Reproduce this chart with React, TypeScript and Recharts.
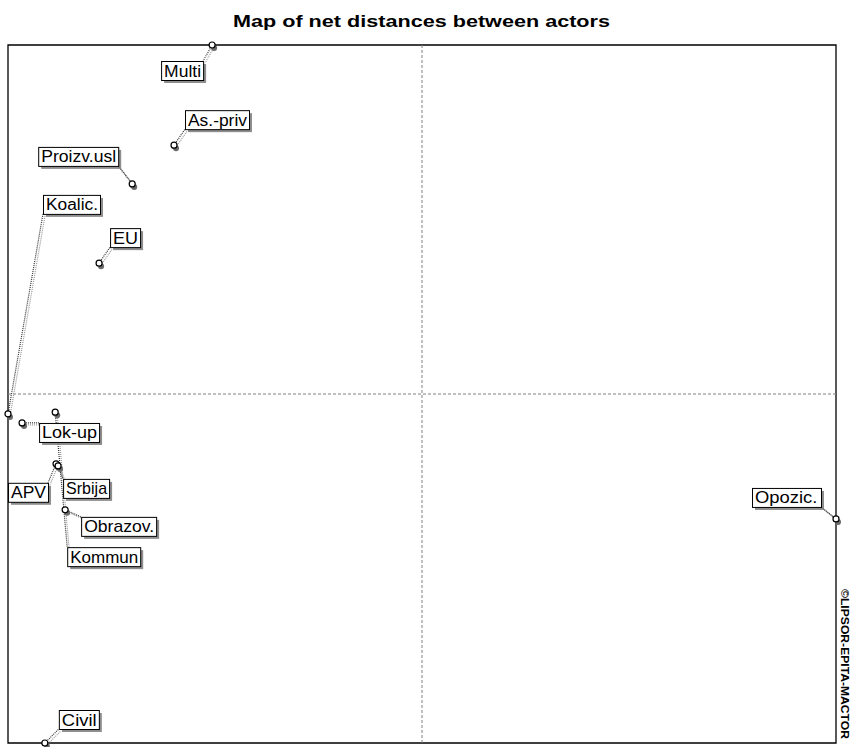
import { ReferenceArea, ReferenceLine, Scatter, ScatterChart, XAxis, YAxis } from 'recharts'

// actor positions on the net-distance map (axes run -1..1, crossing at 0)
const ACTORS = ['Multi', 'As.-priv', 'Proizv.usl', 'Koalic.', 'EU', 'Lok-up', 'Kommun', 'APV', 'Srbija', 'Obrazov.', 'Opozic.', 'Civil']
const X_VALUES = [-0.507, -0.599, -0.7, -1.0, -0.78, -0.966, -0.886, -0.884, -0.879, -0.862, 1.0, -0.911]
const Y_VALUES = [1.0, 0.713, 0.602, -0.057, 0.375, -0.083, -0.052, -0.2, -0.206, -0.332, -0.358, -1.0]

// where each label box sits relative to its point (px)
const LABEL_LAYOUT = [
  { dx: -51, dy: 16, w: 42 },
  { dx: 11, dy: -35, w: 64 },
  { dx: -94, dy: -37, w: 80 },
  { dx: 35, dy: -219, w: 57 },
  { dx: 11, dy: -35, w: 30 },
  { dx: 17, dy: 0, w: 60 },
  { dx: 12, dy: 135, w: 73 },
  { dx: -48, dy: 19, w: 40 },
  { dx: 5, dy: 13, w: 46 },
  { dx: 16, dy: 7, w: 75 },
  { dx: -84, dy: -31, w: 69 },
  { dx: 14, dy: -33, w: 40 },
]

const BOX_H = 19
const W = 852
const H = 747
const LABEL_FONT = 'Liberation Sans, Arial, sans-serif'
const LABEL_SIZE = 16

const data = ACTORS.map((name, i) => ({ name, x: X_VALUES[i], y: Y_VALUES[i], ...LABEL_LAYOUT[i] }))

let ctx: CanvasRenderingContext2D | null = null
function textWidth(s: string) {
  if (!ctx) ctx = document.createElement('canvas').getContext('2d')
  if (!ctx) return s.length * 8
  ctx.font = `${LABEL_SIZE}px ${LABEL_FONT}`
  return ctx.measureText(s).width
}

function boxOf(p: any) {
  const left = p.cx + p.payload.dx
  const top = p.cy + p.payload.dy
  return { left, top, right: left + p.payload.w, bottom: top + BOX_H }
}

function Connector(props: any) {
  const { cx, cy } = props
  const b = boxOf(props)
  const ax = Math.min(Math.max(cx, b.left), b.right)
  const ay = Math.min(Math.max(cy, b.top), b.bottom)
  return (
    <g>
      <line x1={cx + 2} y1={cy + 2} x2={ax + 2} y2={ay + 2} stroke="#9a9a9a" strokeDasharray="1 1" strokeWidth={1.2} />
      <line x1={cx} y1={cy} x2={ax} y2={ay} stroke="#333" strokeDasharray="1 1" strokeWidth={1.2} />
    </g>
  )
}

function Dot(props: any) {
  const { cx, cy } = props
  return (
    <g>
      <circle cx={cx + 2} cy={cy + 3} r={3} fill="#6a6a6a" />
      <circle cx={cx} cy={cy} r={3} fill="#fff" stroke="#000" strokeWidth={1.2} />
    </g>
  )
}

function LabelBox(props: any) {
  const b = boxOf(props)
  const { w, name } = props.payload
  const target = w - 5
  const sx = Math.min(1.15, target / textWidth(name))
  return (
    <g>
      <rect x={b.left + 3} y={b.top + 3} width={w} height={BOX_H} fill="#7a7a7a" opacity={0.85} />
      <rect x={b.left + 0.5} y={b.top + 0.5} width={w} height={BOX_H} fill="#fff" stroke="#000" />
      <text
        transform={`translate(${b.left + 3} ${b.top + 15.5}) scale(${sx} 1)`}
        fontSize={LABEL_SIZE}
        fontFamily={LABEL_FONT}
        fill="#000"
      >
        {name}
      </text>
    </g>
  )
}

export default function App() {
  return (
    <div style={{ position: 'absolute', left: 0, top: 0, width: W, height: H, background: '#fff' }}>
      <ScatterChart width={W} height={H} margin={{ top: 45, right: 16, bottom: 4, left: 8 }}>
        <XAxis type="number" dataKey="x" domain={[-1, 1]} hide />
        <YAxis type="number" dataKey="y" domain={[-1, 1]} hide />
        <ReferenceArea x1={-1} x2={1} y1={-1} y2={1} fill="none" stroke="#000" strokeWidth={1.3} fillOpacity={0} />
        <ReferenceLine x={0} stroke="#808080" strokeDasharray="3 2" />
        <ReferenceLine y={0} stroke="#808080" strokeDasharray="3 2" />
        <Scatter data={data} shape={(p: any) => <Connector {...p} />} isAnimationActive={false} />
        <Scatter data={data} shape={(p: any) => <Dot {...p} />} isAnimationActive={false} />
        <Scatter data={data} shape={(p: any) => <LabelBox {...p} />} isAnimationActive={false} />
      </ScatterChart>
      <svg width={W} height={H} style={{ position: 'absolute', left: 0, top: 0, pointerEvents: 'none' }}>
        <text
          x={233}
          y={27}
          fontSize={17}
          fontWeight="bold"
          fontFamily="Liberation Sans, Arial, sans-serif"
          textLength={377}
          lengthAdjust="spacingAndGlyphs"
        >
          Map of net distances between actors
        </text>
        <text
          transform="translate(841 589) rotate(90)"
          fontSize={11}
          fontWeight="bold"
          fontFamily="Liberation Sans, Arial, sans-serif"
          textLength={150}
          lengthAdjust="spacingAndGlyphs"
        >
          ©LIPSOR-EPITA-MACTOR
        </text>
      </svg>
    </div>
  )
}
